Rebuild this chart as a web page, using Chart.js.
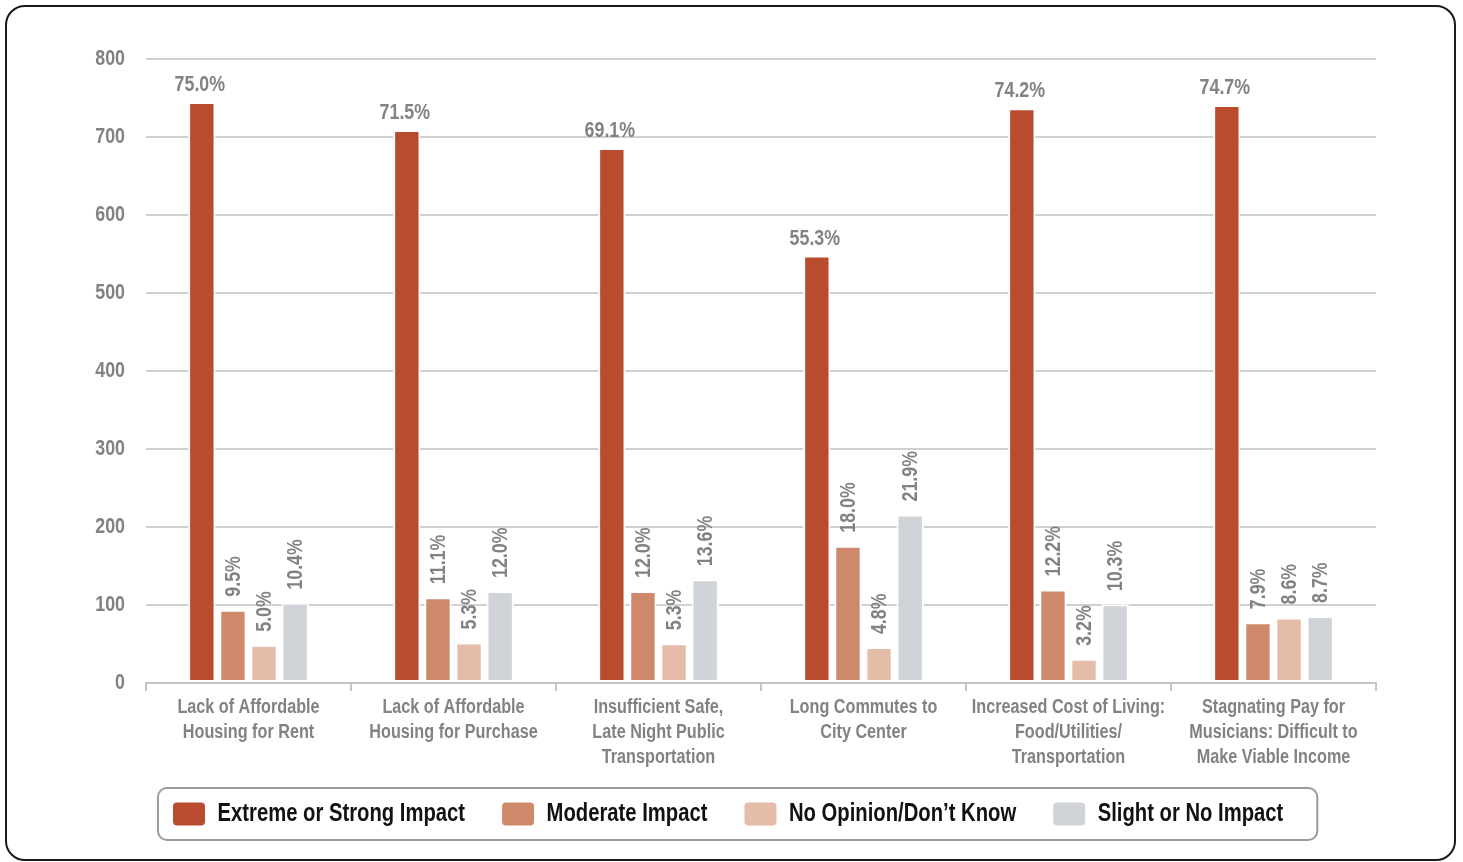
<!DOCTYPE html>
<html>
<head>
<meta charset="utf-8">
<script src="https://cdn.jsdelivr.net/npm/chart.js@4"></script>
<style>
  html, body { margin: 0; padding: 0; background: #fff; }
  #wrap { position: relative; width: 1463px; height: 862px; overflow: hidden; }
  #frame { position: absolute; left: 5px; top: 5px; width: 1451px; height: 856px; box-sizing: border-box;
           border: 2px solid #1a1a1a; border-radius: 20px; pointer-events: none; }
  canvas { position: absolute; left: 0; top: 0; }
</style>
</head>
<body>
<div id="wrap">
  <canvas id="c" width="1463" height="862"></canvas>
  <div id="frame"></div>
</div>
<script>
// Condensed look: Liberation Sans Bold drawn with a horizontal squeeze (like a narrow face)
const SX = 0.81;
(function () {
  const proto = CanvasRenderingContext2D.prototype;
  const origFill = proto.fillText, origMeasure = proto.measureText;
  proto.fillText = function (t, x, y, maxW) {
    this.save();
    this.translate(x, y);
    this.scale(SX, 1);
    if (maxW !== undefined) origFill.call(this, t, 0, 0, maxW / SX);
    else origFill.call(this, t, 0, 0);
    this.restore();
  };
  proto.measureText = function (t) {
    const m = origMeasure.call(this, t);
    return {
      width: m.width * SX,
      actualBoundingBoxAscent: m.actualBoundingBoxAscent,
      actualBoundingBoxDescent: m.actualBoundingBoxDescent,
      actualBoundingBoxLeft: m.actualBoundingBoxLeft * SX,
      actualBoundingBoxRight: m.actualBoundingBoxRight * SX,
      fontBoundingBoxAscent: m.fontBoundingBoxAscent,
      fontBoundingBoxDescent: m.fontBoundingBoxDescent
    };
  };
})();

const FONT = "'Liberation Sans', Arial, sans-serif";

const categories = [
  ['Lack of Affordable', 'Housing for Rent'],
  ['Lack of Affordable', 'Housing for Purchase'],
  ['Insufficient Safe,', 'Late Night Public', 'Transportation'],
  ['Long Commutes to', 'City Center'],
  ['Increased Cost of Living:', 'Food/Utilities/', 'Transportation'],
  ['Stagnating Pay for', 'Musicians: Difficult to', 'Make Viable Income']
];
const seriesNames = ['Extreme or Strong Impact', 'Moderate Impact', 'No Opinion/Don\u2019t Know', 'Slight or No Impact'];

const extreme   = [745, 709, 686, 548, 737, 741];
const moderate  = [94, 110, 118, 176, 120, 78];
const noOpinion = [49, 52, 51, 46, 31, 84];
const slight    = [103, 118, 133, 216, 101, 86];

const extremePct   = [75.0, 71.5, 69.1, 55.3, 74.2, 74.7];
const moderatePct  = [9.5, 11.1, 12.0, 18.0, 12.2, 7.9];
const noOpinionPct = [5.0, 5.3, 5.3, 4.8, 3.2, 8.6];
const slightPct    = [10.4, 12.0, 13.6, 21.9, 10.3, 8.7];

const yTicks = [0, 100, 200, 300, 400, 500, 600, 700, 800];

const colors = ['#B94C2E', '#CE896B', '#E4BCA7', '#D0D3D7'];
const GRAY = '#808285';

const pctPlugin = {
  id: 'pctLabels',
  afterDatasetsDraw(chart) {
    const ctx = chart.ctx;
    chart.data.datasets.forEach((ds, i) => {
      const meta = chart.getDatasetMeta(i);
      meta.data.forEach((bar, j) => {
        const txt = ds.pct[j].toFixed(1) + '%';
        ctx.save();
        ctx.font = 'bold 22px ' + FONT;
        ctx.fillStyle = GRAY;
        if (i === 0) {
          ctx.textAlign = 'center';
          ctx.textBaseline = 'alphabetic';
          ctx.fillText(txt, bar.x - 2, bar.y - 11);
        } else {
          ctx.translate(bar.x + 1, bar.y - 13);
          ctx.rotate(-Math.PI / 2);
          ctx.textAlign = 'left';
          ctx.textBaseline = 'middle';
          ctx.fillText(txt, 0, 0);
        }
        ctx.restore();
      });
    });
  }
};

const LEG_PAD = 37;
const legendPlacePlugin = {
  id: 'legendPlace',
  afterLayout(chart) {
    const lg = chart.legend;
    if (!lg || !lg.lineWidths) return;
    const itemH = 25;
    const top = 814 - LEG_PAD - itemH / 2;
    const h = lg.bottom - lg.top;
    lg.top = top; lg.bottom = top + h;
    const start = (lg.left + LEG_PAD + lg.right - lg.lineWidths[0]) / 2;
    const shift = 173 - start;
    lg.left += shift; lg.right += shift;
  },
  afterDraw(chart) {
    const hb = chart.legend && chart.legend.legendHitBoxes;
    if (!hb || !hb.length) return;
    const ctx = chart.ctx;
    const first = hb[0], last = hb[hb.length - 1];
    const cy = 814;
    const x0 = first.left - 15, x1 = last.left + last.width + 34;
    const y0 = cy - 26, y1 = cy + 26;
    ctx.save();
    ctx.strokeStyle = '#9b9b9b';
    ctx.lineWidth = 2;
    ctx.beginPath();
    ctx.roundRect(x0, y0, x1 - x0, y1 - y0, 9);
    ctx.stroke();
    ctx.restore();
  }
};

const pctArrays = [extremePct, moderatePct, noOpinionPct, slightPct];
const valArrays = [extreme, moderate, noOpinion, slight];

new Chart(document.getElementById('c'), {
  type: 'bar',
  data: {
    labels: categories,
    datasets: valArrays.map((vals, i) => ({
      label: seriesNames[i],
      data: vals,
      pct: pctArrays[i],
      backgroundColor: colors[i],
      borderColor: '#ffffff',
      borderWidth: 2,
      borderSkipped: false,
      barPercentage: 0.88,
      categoryPercentage: 0.607
    }))
  },
  options: {
    responsive: false,
    devicePixelRatio: 1,
    animation: false,
    layout: { padding: { left: 40, right: 87, top: 59, bottom: 15 } },
    plugins: {
      tooltip: { enabled: false },
      legend: {
        position: 'bottom',
        labels: {
          color: '#111',
          font: { family: FONT, size: 25, weight: 'bold' },
          boxWidth: 32,
          boxHeight: 23,
          padding: LEG_PAD,
          useBorderRadius: true,
          borderRadius: 4,
          generateLabels(chart) {
            return chart.data.datasets.map((ds, i) => ({
              text: ds.label,
              fillStyle: ds.backgroundColor,
              strokeStyle: ds.backgroundColor,
              lineWidth: 0,
              fontColor: '#111',
              borderRadius: 4,
              datasetIndex: i,
              hidden: false
            }));
          }
        }
      }
    },
    scales: {
      x: {
        grid: { offset: true, drawOnChartArea: false, drawTicks: true, tickLength: 8, color: '#c6c6c6', lineWidth: 2 },
        border: { display: true, color: '#c6c6c6', width: 2 },
        ticks: {
          color: GRAY,
          font: { family: FONT, size: 20, weight: 'bold', lineHeight: 1.25 },
          padding: 4,
          maxRotation: 0,
          autoSkip: false
        },
        afterFit(scale) { scale.height = 92; }
      },
      y: {
        min: 0,
        max: 800,
        afterBuildTicks(scale) { scale.ticks = yTicks.map(v => ({ value: v })); },
        grid: { color: '#d0d0d0', lineWidth: 2, drawTicks: false },
        border: { display: false },
        ticks: {
          color: GRAY,
          font: { family: FONT, size: 22, weight: 'bold' },
          padding: 21
        },
        afterFit(scale) { scale.width = 106; }
      }
    }
  },
  plugins: [pctPlugin, legendPlacePlugin]
});
</script>
</body>
</html>
